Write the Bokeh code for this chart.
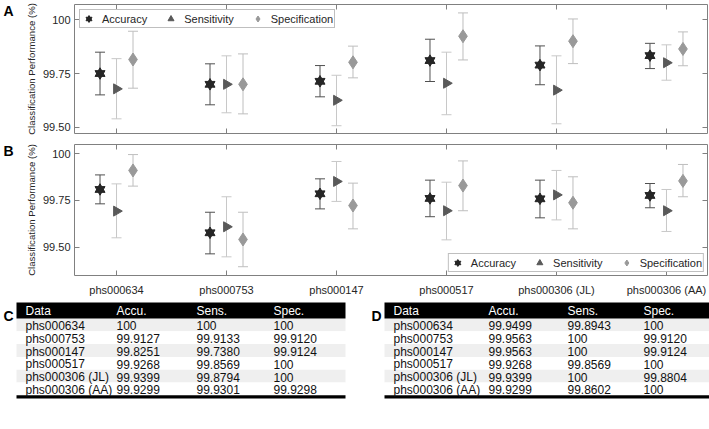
import math
from bokeh.plotting import figure
from bokeh.layouts import column, row
from bokeh.models import (ColumnDataSource, Range1d, FixedTicker, LinearAxis, Whisker, TeeHead,
                          Legend, LegendItem)
from bokeh.core.properties import value
from bokeh.embed import file_html
from bokeh.resources import INLINE

# ---------------- data ----------------
categories = ["phs000634", "phs000753", "phs000147", "phs000517", "phs000306 (JL)", "phs000306 (AA)"]
series = ["Accuracy", "Sensitivity", "Specification"]
y_ticks = [99.50, 99.75, 100.0]
y_tick_labels = ["99.50", "99.75", "100"]
panel_letters = ["A", "B"]

# Panel A (value, lower, upper)
acc_a    = [99.750, 99.700, 99.714, 99.810, 99.789, 99.833]
acc_a_lo = [99.651, 99.605, 99.642, 99.713, 99.698, 99.773]
acc_a_hi = [99.849, 99.795, 99.787, 99.909, 99.878, 99.890]
sen_a    = [99.679, 99.700, 99.626, 99.705, 99.673, 99.800]
sen_a_lo = [99.540, 99.568, 99.508, 99.559, 99.517, 99.719]
sen_a_hi = [99.819, 99.832, 99.742, 99.849, 99.832, 99.883]
spe_a    = [99.815, 99.700, 99.802, 99.923, 99.900, 99.864]
spe_a_lo = [99.682, 99.563, 99.730, 99.813, 99.796, 99.786]
spe_a_hi = [99.946, 99.841, 99.877, 100.031, 100.003, 99.943]

# Panel B (value, lower, upper)
acc_b    = [99.809, 99.577, 99.786, 99.761, 99.759, 99.777]
acc_b_lo = [99.732, 99.464, 99.705, 99.663, 99.657, 99.711]
acc_b_hi = [99.887, 99.687, 99.866, 99.859, 99.859, 99.841]
sen_b    = [99.693, 99.609, 99.852, 99.695, 99.780, 99.695]
sen_b_lo = [99.550, 99.448, 99.745, 99.539, 99.646, 99.584]
sen_b_hi = [99.839, 99.770, 99.959, 99.848, 99.911, 99.809]
spe_b    = [99.911, 99.541, 99.723, 99.830, 99.738, 99.855]
spe_b_lo = [99.827, 99.395, 99.598, 99.695, 99.598, 99.770]
spe_b_hi = [99.996, 99.687, 99.843, 99.962, 99.877, 99.943]

# Tables
table_header = ["Data", "Accu.", "Sens.", "Spec."]
c_accu = ["100", "99.9127", "99.8251", "99.9268", "99.9399", "99.9299"]
c_sens = ["100", "99.9133", "99.7380", "99.8569", "99.8794", "99.9301"]
c_spec = ["100", "99.9120", "99.9124", "100", "100", "99.9298"]
d_accu = ["99.9499", "99.9563", "99.9563", "99.9268", "99.9399", "99.9299"]
d_sens = ["99.8943", "100", "100", "99.8569", "100", "99.8602"]
d_spec = ["100", "99.9120", "99.9124", "100", "99.8804", "100"]

# ---------------- style ----------------
FONT = "Liberation Sans"
TXT = "#262626"
FRAME = "#808080"
OFFSETS = [-0.15, 0.0, 0.15]
MARK_COL = ["#262626", "#595959", "#999999"]
BAR_COL = ["#505050", "#c8c8c8", "#bebebe"]
XR = (-0.382, 5.373)
LETTER_W = 14


def blank_axis(ticks):
    ax = LinearAxis(ticker=FixedTicker(ticks=ticks),
                    major_label_overrides={t: "" for t in ticks})
    ax.major_label_text_font_size = "0px"
    ax.major_label_standoff = 0
    ax.axis_line_color = None
    ax.major_tick_in = 5
    ax.major_tick_out = 0
    ax.minor_tick_line_color = None
    ax.major_tick_line_color = FRAME
    return ax


def style_axis(ax):
    ax.axis_line_color = None
    ax.major_tick_in = 5
    ax.major_tick_out = 0
    ax.minor_tick_line_color = None
    ax.major_tick_line_color = FRAME
    ax.major_label_text_font = FONT
    ax.major_label_text_font_size = "11px"
    ax.major_label_text_color = TXT


def panel(vals, height, yr, b_top, b_bottom, legend_loc, legend_margin, xlabels):
    p = figure(width=709 - LETTER_W, height=height, x_range=Range1d(*XR), y_range=Range1d(*yr),
               output_backend="svg", toolbar_location=None,
               min_border_left=74 - LETTER_W, min_border_right=2,
               min_border_top=b_top, min_border_bottom=b_bottom,
               x_axis_type=None, y_axis_type=None)
    p.grid.visible = False
    p.outline_line_color = FRAME
    p.outline_line_width = 1
    p.background_fill_color = "white"
    p.border_fill_color = "white"

    yl = LinearAxis(ticker=FixedTicker(ticks=y_ticks),
                    major_label_overrides=dict(zip(y_ticks, y_tick_labels)))
    style_axis(yl)
    yl.major_label_standoff = 4
    yl.axis_label = "Classification Performance (%)"
    yl.axis_label_text_font = FONT
    yl.axis_label_text_font_size = "9.6px"
    yl.axis_label_text_font_style = "normal"
    yl.axis_label_text_color = TXT
    yl.axis_label_standoff = 3
    p.add_layout(yl, "left")
    p.add_layout(blank_axis(y_ticks), "right")
    p.add_layout(blank_axis(list(range(len(categories)))), "above")
    if xlabels:
        xb = LinearAxis(ticker=FixedTicker(ticks=list(range(len(categories)))),
                        major_label_overrides={i: c for i, c in enumerate(categories)})
        style_axis(xb)
        xb.major_label_standoff = 8
        p.add_layout(xb, "below")
    else:
        p.add_layout(blank_axis(list(range(len(categories)))), "below")

    items = []
    for k, (v, lo, hi) in enumerate(vals):
        xs = [i + OFFSETS[k] for i in range(len(categories))]
        src = ColumnDataSource(dict(x=xs, y=v, lo=lo, hi=hi))
        w = Whisker(source=src, base="x", lower="lo", upper="hi", line_color=BAR_COL[k], line_width=1,
                    upper_head=TeeHead(size=10, line_color=BAR_COL[k], line_width=1),
                    lower_head=TeeHead(size=10, line_color=BAR_COL[k], line_width=1))
        p.add_layout(w)
        if k == 0:
            r1 = p.scatter("x", "y", source=src, marker="triangle", size=10,
                           fill_color=MARK_COL[k], line_color=MARK_COL[k])
            r2 = p.scatter("x", "y", source=src, marker="inverted_triangle", size=10,
                           fill_color=MARK_COL[k], line_color=MARK_COL[k])
            rs = [r1, r2]
        elif k == 1:
            r1 = p.scatter("x", "y", source=src, marker="triangle", size=10, angle=-math.pi / 2,
                           fill_color=MARK_COL[k], line_color=MARK_COL[k])
            rs = [r1]
        else:
            r1 = p.scatter("x", "y", source=src, marker="diamond", size=13,
                           fill_color=MARK_COL[k], line_color=MARK_COL[k])
            rs = [r1]
        items.append(LegendItem(label=series[k], renderers=rs))

    leg = Legend(items=items, location=legend_loc, orientation="horizontal",
                 glyph_width=15, glyph_height=15, label_height=12, padding=1, spacing=16,
                 label_standoff=6, margin=legend_margin, border_line_color=FRAME, border_line_width=1,
                 background_fill_color="white", background_fill_alpha=1,
                 label_text_font=FONT, label_text_font_size="11px", label_text_color=TXT)
    p.add_layout(leg)
    return p


pA = panel([(acc_a, acc_a_lo, acc_a_hi), (sen_a, sen_a_lo, sen_a_hi), (spe_a, spe_a_lo, spe_a_hi)],
           136, (99.472, 100.07), 4, 3, "top_left", 5, False)
pB = panel([(acc_b, acc_b_lo, acc_b_hi), (sen_b, sen_b_lo, sen_b_hi), (spe_b, spe_b_lo, spe_b_hi)],
           164, (99.348, 100.05), 8, 25, "bottom_right", 3, True)


def blank_fig(width, height):
    p = figure(width=width, height=height, x_range=Range1d(0, width), y_range=Range1d(height, 0),
               output_backend="svg", toolbar_location=None,
               min_border_left=0, min_border_right=0, min_border_top=0, min_border_bottom=0,
               x_axis_type=None, y_axis_type=None)
    p.grid.visible = False
    p.outline_line_color = None
    p.background_fill_color = "white"
    p.border_fill_color = "white"
    return p


# panel letters A / B
pL = blank_fig(LETTER_W, 300)
pL.text(x=[3, 3], y=[10.5, 150.5], text=panel_letters, text_font=value(FONT), text_font_size="14px",
        text_font_style="bold", text_color="black", text_baseline="alphabetic", text_align="left")

# ---------------- tables ----------------
HEAD_TOP, HEAD_BOT = 2.0, 18.0
ROW_H = 12.8


def table(width, letter, letter_x, bar_x0, bar_x1, col_x, cols):
    p = blank_fig(width, 100)
    n = len(categories)
    tops = [HEAD_BOT + i * ROW_H for i in range(n)]
    bots = [t + ROW_H for t in tops]
    fills = ["#efefef" if i % 2 == 0 else "#ffffff" for i in range(n)]
    p.quad(left=[bar_x0] * n, right=[bar_x1] * n, top=tops, bottom=bots,
           fill_color=fills, line_color=None)
    p.quad(left=[bar_x0], right=[bar_x1], top=[HEAD_TOP], bottom=[HEAD_BOT],
           fill_color="black", line_color=None)
    p.quad(left=[bar_x0], right=[bar_x1], top=[bots[-1]], bottom=[bots[-1] + 3.2],
           fill_color="black", line_color=None)
    p.text(x=col_x, y=[(HEAD_TOP + HEAD_BOT) / 2 + 0.5] * 4, text=table_header,
           text_font=value(FONT), text_font_size="12px", text_color="white",
           text_baseline="middle", text_align="left")
    centers = [(t + b) / 2 + 1.0 for t, b in zip(tops, bots)]
    for ci, vals in enumerate(cols):
        p.text(x=[col_x[ci]] * n, y=centers, text=vals,
               text_font=value(FONT), text_font_size="12px", text_color="#111111",
               text_baseline="middle", text_align="left")
    p.text(x=[letter_x], y=[15.5], text=[letter], text_font=value(FONT), text_font_size="14px",
           text_font_style="bold", text_color="black", text_baseline="alphabetic", text_align="left")
    return p


tC = table(365, "C", 3, 16, 345, [25, 116, 196, 273], [categories, c_accu, c_sens, c_spec])
tD = table(344, "D", 6, 19, 344, [28, 123, 202, 278], [categories, d_accu, d_sens, d_spec])

layout = column(row(pL, column(pA, pB, spacing=0), spacing=0), row(tC, tD, spacing=0), spacing=0)
open("out.html", "w").write(file_html(layout, INLINE))
